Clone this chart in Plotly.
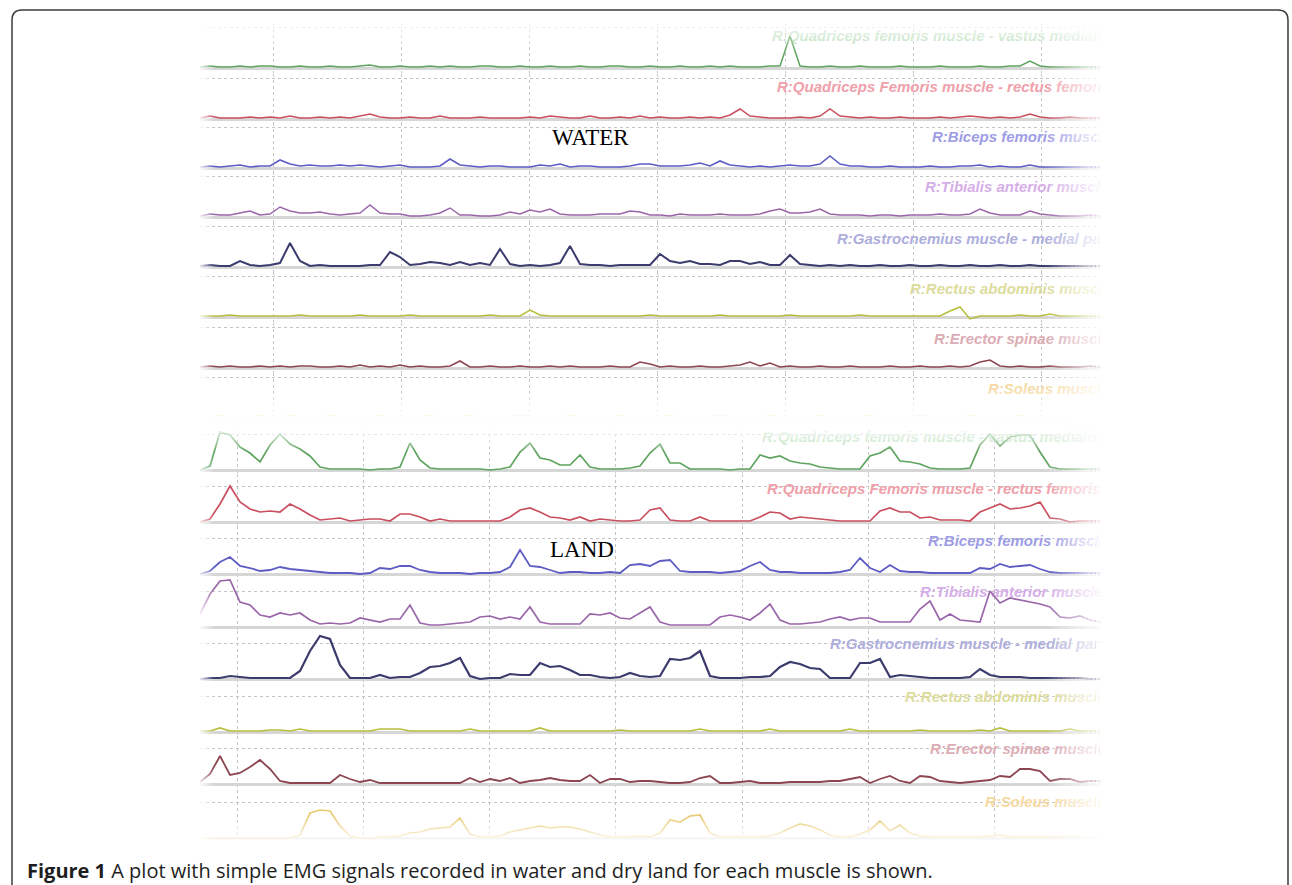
import numpy as np
import plotly.graph_objects as go

W, H = 1292, 885

# ---------------- data (amplitude, a.u.; one sample every 0.078 s) ----------------
MUSCLES = ["R:Quadriceps femoris muscle - vastus medialis",
           "R:Quadriceps Femoris muscle - rectus femoris",
           "R:Biceps femoris muscle",
           "R:Tibialis anterior muscle",
           "R:Gastrocnemius muscle - medial part",
           "R:Rectus abdominis muscle",
           "R:Erector spinae muscle",
           "R:Soleus muscle"]

WATER_GREEN = [1,2,1,1,2,1,2,2, 1,1,2,1,1,2,1,1, 2,3,1,1,2,1,1,2, 1,2,1,1,2,2,1,1,
               2,1,1,2,1,1,2,1, 1,2,2,1,1,2,1,1, 2,1,1,2,1,2,1,1, 1,2,2,32,2,1,1,2,
               1,1,2,1,1,1,2,1, 1,1,2,1,1,1,2,1, 1,2,2,7,2,1,1,1, 1,1,1]
WATER_RED = [1,3,1,1,1,2,1,2, 1,3,1,1,2,1,2,1, 3,5,2,1,1,2,1,1, 3,1,1,1,2,1,1,1,
             1,2,1,3,2,1,1,3, 1,1,2,1,3,1,2,1, 1,2,1,2,1,4,10,3, 2,1,1,1,2,1,3,10,
             3,2,1,2,1,1,2,1, 1,1,2,1,2,3,2,1, 2,1,2,5,2,1,1,2, 1,1,1]
WATER_BLUE = [1,2,1,2,3,1,2,2, 8,4,2,3,2,2,3,2, 3,2,1,2,3,1,1,1, 2,9,3,2,1,2,2,1,
              1,1,3,2,4,1,2,2, 1,1,1,2,4,4,2,2, 2,3,5,2,7,3,2,1, 2,1,2,3,2,2,4,12,
              4,2,2,1,1,2,1,1, 1,2,1,1,2,2,3,1, 2,1,1,3,1,1,1,1, 1,1,1]
WATER_PURPLE = [1,3,2,2,4,6,2,3, 10,6,4,4,5,3,2,3, 4,12,4,3,3,1,1,2, 4,9,2,2,1,1,2,5,
                3,7,5,8,3,2,2,2, 3,3,3,6,5,2,2,1, 3,2,2,2,3,2,2,2, 3,6,8,4,4,5,8,3,
                2,2,2,1,2,2,1,2, 2,2,3,2,2,3,8,4, 2,2,2,6,3,2,1,1, 1,2,1]
WATER_GASTRO = [1,2,1,1,6,2,1,2, 4,24,6,1,2,1,1,1, 1,2,2,15,10,2,3,5, 4,2,5,2,4,2,18,3,
                1,2,1,2,4,21,3,2, 2,1,2,2,2,2,13,6, 4,6,3,3,2,6,6,3, 5,2,2,12,3,2,1,2,
                1,2,1,1,2,1,1,2, 1,1,2,1,1,2,1,1, 2,1,1,2,1,1,1,1, 1,1,1]
WATER_RECTUS = [1,1,1,2,1,1,1,1, 1,1,2,1,1,1,1,1, 2,1,1,1,1,2,1,1, 1,1,1,1,1,2,1,1,
                1,7,2,1,1,1,1,1, 1,1,1,1,1,2,1,1, 1,1,1,1,2,1,1,1, 1,1,1,2,1,1,1,1,
                1,1,2,1,1,1,1,1, 1,1,1,6,10,-2,1,1, 1,1,2,1,1,3,1,1, 1,1,1]
WATER_ERECTOR = [1,2,1,2,1,1,2,1, 2,1,2,2,1,1,2,1, 3,1,2,1,3,1,2,1, 1,2,7,1,1,2,1,1,
                 2,1,1,2,1,2,1,1, 1,2,1,1,6,4,1,2, 1,1,2,1,1,2,3,6, 2,5,1,2,1,1,2,1,
                 1,2,1,1,1,2,1,1, 2,1,1,2,1,2,6,8, 2,1,2,1,1,2,1,1, 1,2,1]
WATER_SOLEUS = [1,1,2,1,1,1,2,1, 1,2,1,1,1,2,1,1, 1,1,2,1,1,1,1,2, 1,1,1,2,1,1,1,1,
                2,1,1,1,1,2,1,1, 1,1,2,1,1,1,1,2, 1,1,1,1,2,1,1,1, 1,2,1,1,1,1,2,1,
                1,1,1,2,1,1,1,1, 2,1,1,1,1,2,1,1, 1,1,2,1,1,1,1,1, 1,1,1]

LAND_GREEN = [0,4,38,35,23,17,8,25, 36,26,21,14,3,1,1,1, 1,0,1,1,3,27,10,2, 1,1,1,1,1,0,1,3,
              18,27,12,10,5,5,15,3, 1,1,1,2,4,17,26,7, 7,1,1,1,1,0,1,1, 15,12,14,9,7,6,3,2,
              1,1,1,14,17,23,9,8, 6,2,1,1,1,2,25,36, 24,33,35,35,18,3,1,1, 1,1,1]
LAND_RED = [0,3,18,36,20,13,10,11, 10,18,13,7,2,3,4,1, 2,3,3,1,8,8,5,1, 3,1,1,1,1,1,1,5,
            12,14,10,5,4,2,5,1, 3,2,1,1,2,12,14,2, 1,1,5,1,1,1,1,1, 5,10,9,3,5,4,3,2,
            1,1,1,1,11,14,10,10, 4,5,2,2,2,1,10,14, 18,13,14,16,20,4,3,0, 1,1,1]
LAND_BLUE = [0,3,12,17,8,6,3,4, 7,5,4,3,2,1,1,1, 0,1,6,5,8,8,4,2, 1,1,1,0,1,1,2,7,
             24,8,7,4,1,2,2,1, 1,2,1,9,10,8,13,14, 3,2,2,2,1,2,3,8, 12,4,2,2,1,1,1,1,
             2,4,16,6,2,9,3,2, 2,1,1,1,1,1,6,5, 10,7,8,9,5,2,1,1, 1,1,1]
LAND_PURPLE = [13,33,46,47,25,22,12,10, 14,12,14,7,3,4,3,4, 9,7,5,8,8,22,4,2, 2,3,4,5,10,11,8,10,
               8,20,5,3,3,3,3,13, 12,14,9,8,14,20,5,2, 2,2,2,2,10,12,10,7, 14,23,7,3,3,4,5,8,
               10,7,9,9,5,5,5,5, 18,26,7,13,7,6,5,36, 24,29,27,25,23,20,10,9, 11,7,5]
LAND_GASTRO = [0,1,1,3,2,1,1,1, 1,1,8,28,43,40,14,1, 1,1,4,1,2,2,6,12, 13,16,21,3,0,1,1,5,
               4,4,16,12,13,9,4,4, 2,1,2,6,3,2,3,20, 19,21,28,3,1,1,1,2, 2,3,12,17,15,11,10,1,
               1,1,16,16,20,2,4,3, 2,1,1,1,1,2,10,4, 2,2,2,1,1,1,1,1, 1,0,0]
LAND_RECTUS = [1,1,4,1,1,1,1,2, 2,1,3,1,1,1,1,1, 1,1,3,3,3,1,1,1, 1,1,1,3,1,1,1,1,
               1,1,4,1,1,1,1,1, 1,1,2,1,1,1,1,1, 1,1,3,1,1,1,1,1, 1,3,1,1,1,1,1,1,
               1,3,1,1,1,1,1,1, 2,1,1,1,1,1,2,1, 4,1,1,1,1,1,1,3, 1,1,1]
LAND_ERECTOR = [2,10,28,9,11,17,24,15, 3,1,1,1,1,1,9,5, 2,4,1,1,1,1,1,1, 1,1,1,6,2,5,3,6,
                1,3,4,6,4,3,3,9, 1,5,5,2,3,3,2,1, 1,2,6,8,1,1,2,3, 1,1,1,2,2,2,2,3,
                3,5,7,1,5,8,3,1, 8,7,3,2,1,2,3,4, 8,7,15,15,13,3,5,5, 2,3,3]
LAND_SOLEUS = [0,0,0,0,0,0,0,0, 0,0,3,25,28,27,12,2, 0,0,1,1,2,5,6,9, 10,11,20,4,1,1,2,6,
               8,10,12,10,11,11,9,6, 3,1,1,1,2,1,5,18, 16,22,23,5,1,1,1,1, 1,2,5,10,14,12,8,3,
               1,1,4,8,17,7,13,5, 2,1,1,1,1,1,1,2, 3,1,1,1,1,1,1,1, 1,1,1]

WATER = [WATER_GREEN, WATER_RED, WATER_BLUE, WATER_PURPLE,
         WATER_GASTRO, WATER_RECTUS, WATER_ERECTOR, WATER_SOLEUS]
LAND = [LAND_GREEN, LAND_RED, LAND_BLUE, LAND_PURPLE,
        LAND_GASTRO, LAND_RECTUS, LAND_ERECTOR, LAND_SOLEUS]

WATER_T0, WATER_DT = 0.4297, 0.078125
LAND_T0, LAND_DT = 0.707, 0.07918
water_time = np.round(WATER_T0 + WATER_DT * np.arange(len(WATER_GREEN)), 4)
land_time = np.round(LAND_T0 + LAND_DT * np.arange(len(LAND_GREEN)), 4)

# ---------------- styles ----------------
LINE_COLORS = ["#5ea45e", "#c94f5f", "#5c5cc4", "#9a66aa",
               "#3b3b6e", "#b6bf3c", "#8c4652", "#e9c970"]
WATER_WIDTHS = [1.5, 1.5, 1.6, 1.5, 2.0, 1.5, 1.6, 1.5]
LAND_WIDTHS = [1.7, 1.7, 1.8, 1.7, 2.2, 1.7, 1.8, 1.7]
LABEL_COLORS = ["#b9ddb9", "#f0a0aa", "#9d9de6", "#d6aee8",
                "#aeaedc", "#dcdc9c", "#dcadb5", "#f6d9a0"]

# layout geometry (pixels)
WATER_BASE = [68, 119, 168, 217, 267, 317, 368, 418]
LAND_BASE = [470, 522, 574, 627, 679, 732, 784, 838]
WATER_LABEL_PX = [(772, 37), (777, 88), (932, 138), (925, 188),
                  (837, 240), (910, 290), (934, 340), (988, 390)]
LAND_LABEL_PX = [(762, 438), (767, 490), (928, 542), (920, 593),
                 (830, 645), (905, 698), (930, 750), (985, 803)]
PANEL_X = (200, 1100)


def fx(px):
    return px / W


def fy(py):
    return 1 - py / H


fig = go.Figure()
layout_axes = {}

panels = [
    dict(data=WATER, t=water_time, t0=WATER_T0, dt=WATER_DT, base=WATER_BASE,
         labels=WATER_LABEL_PX, xid="x", xname="xaxis", first=1,
         below=5, above=45, top_tick=41, widths=WATER_WIDTHS),
    dict(data=LAND, t=land_time, t0=LAND_T0, dt=LAND_DT, base=LAND_BASE,
         labels=LAND_LABEL_PX, xid="x2", xname="xaxis2", first=9,
         below=4, above=48, top_tick=36, widths=LAND_WIDTHS),
]

for p in panels:
    span_t = p["dt"] * (PANEL_X[1] - PANEL_X[0]) / 10.0
    xr = [p["t0"], p["t0"] + span_t]
    layout_axes[p["xname"]] = dict(
        domain=[fx(PANEL_X[0]), fx(PANEL_X[1])], range=xr, anchor="y" if p["first"] == 1 else "y9",
        showgrid=True, gridcolor="#c4c4c4", griddash="dot", gridwidth=1,
        tick0=1, dtick=1, showticklabels=False, ticks="", showline=False,
        zeroline=False, fixedrange=True)
    for k in range(8):
        n = p["first"] + k
        yid = "y" if n == 1 else f"y{n}"
        yname = "yaxis" if n == 1 else f"yaxis{n}"
        b = p["base"][k]
        layout_axes[yname] = dict(
            domain=[fy(b + p["below"]), fy(b - p["above"])],
            range=[-p["below"], p["above"]], anchor=p["xid"],
            showgrid=True, gridcolor="#c4c4c4", griddash="dot", gridwidth=1,
            tickvals=[p["top_tick"]], showticklabels=False, ticks="",
            showline=False, zeroline=True, zerolinecolor="#d6d6d6",
            zerolinewidth=3, fixedrange=True)
        lx, ly = p["labels"][k]
        fig.add_trace(go.Scatter(
            x=[p["t0"] + (lx - PANEL_X[0]) * p["dt"] / 10.0], y=[b - ly],
            mode="text", text=[f"<b><i>{MUSCLES[k]}</i></b>"],
            textposition="middle right", cliponaxis=True,
            textfont=dict(family="Liberation Sans, Arial, sans-serif", size=15,
                          color=LABEL_COLORS[k]),
            xaxis=p["xid"], yaxis=yid, hoverinfo="skip", showlegend=False))
        fig.add_trace(go.Scatter(
            x=p["t"], y=p["data"][k], mode="lines",
            line=dict(color=LINE_COLORS[k], width=p["widths"][k]),
            xaxis=p["xid"], yaxis=yid, hoverinfo="skip", showlegend=False,
            name=MUSCLES[k]))

# ---------------- soft fading edges ----------------
shapes = []


def rect(x0, y0, x1, y1, op):
    shapes.append(dict(type="rect", xref="paper", yref="paper",
                       x0=fx(min(x0, x1)), x1=fx(max(x0, x1)),
                       y0=fy(max(y0, y1)), y1=fy(min(y0, y1)),
                       fillcolor="white", opacity=op, line=dict(width=0),
                       layer="above"))


def fade(a, b, lo, hi, horizontal, n=14):
    for i in range(n):
        p0 = a + (b - a) * i / n
        p1 = a + (b - a) * (i + 1) / n
        op = (i + 0.5) / n
        if horizontal:
            rect(p0, lo, p1, hi, op)
        else:
            rect(lo, p0, hi, p1, op)


fade(1045, 1104, 15, 856, True)
rect(1104, 0, 1300, 856, 1)
fade(214, 198, 15, 856, True, n=8)
rect(0, 15, 198, 856, 1)
fade(52, 20, 190, 1110, False)
rect(190, 0, 1110, 20, 1)
fade(385, 418, 190, 1110, False)
rect(190, 418, 1110, 428, 1)
fade(452, 428, 190, 1110, False)
fade(815, 842, 190, 1110, False)
rect(190, 842, 1110, 857, 1)


def pt(px, py):
    return f"{fx(px):.5f},{fy(py):.5f}"


border = ("M " + pt(12, 900) + " L " + pt(12, 20) + " Q " + pt(12, 10) + " " + pt(22, 10)
          + " L " + pt(1278, 10) + " Q " + pt(1288, 10) + " " + pt(1288, 20)
          + " L " + pt(1288, 900))
shapes.append(dict(type="path", path=border, xref="paper", yref="paper",
                   line=dict(color="#3c3c3c", width=1.5), layer="above"))

annotations = [
    dict(x=fx(550), y=fy(137), xref="paper", yref="paper", xanchor="left", yanchor="middle",
         text="WATER", showarrow=False,
         font=dict(family="Liberation Serif, Times New Roman, serif", size=23, color="black")),
    dict(x=fx(548), y=fy(549), xref="paper", yref="paper", xanchor="left", yanchor="middle",
         text="LAND", showarrow=False,
         font=dict(family="Liberation Serif, Times New Roman, serif", size=23, color="black")),
    dict(x=fx(25), y=fy(870), xref="paper", yref="paper", xanchor="left", yanchor="middle",
         text="<b>Figure 1</b> A plot with simple EMG signals recorded in water and dry land for each muscle is shown.",
         showarrow=False,
         font=dict(family="Open Sans, Noto Sans, sans-serif", size=20, color="#1e1e1e")),
]

fig.update_layout(
    width=W, height=H, margin=dict(l=0, r=0, t=0, b=0),
    paper_bgcolor="white", plot_bgcolor="rgba(0,0,0,0)",
    showlegend=False, shapes=shapes, annotations=annotations,
    **layout_axes)

fig.write_html("out.html", config={"displayModeBar": False},
               post_script="document.body.style.margin='0px';document.body.style.overflow='hidden';")
